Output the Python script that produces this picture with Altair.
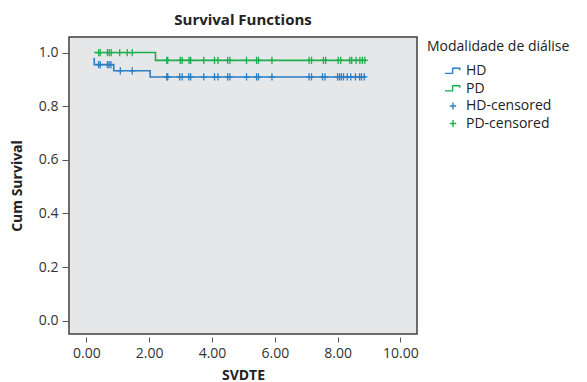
import altair as alt
import pandas as pd

# Kaplan-Meier step points (time, survival)
hd_times = [0.22, 0.25, 0.87, 2.03, 8.9]
hd_surv = [0.977, 0.955, 0.932, 0.909, 0.909]
pd_times = [0.25, 2.2, 8.9]
pd_surv = [1.0, 0.971, 0.971]

# censored times
hd_censored = [0.39, 0.44, 0.67, 0.72, 0.78, 1.08, 1.46,
               2.56, 2.59, 2.97, 3.05, 3.26, 3.32, 3.74, 4.08, 4.19, 4.50, 4.57,
               5.10, 5.42, 5.48, 5.91, 7.09, 7.17, 7.52, 7.60, 8.00, 8.06, 8.12,
               8.19, 8.31, 8.42, 8.57, 8.70, 8.76, 8.85]
pd_censored = [0.39, 0.44, 0.67, 0.73, 0.79, 1.06, 1.30, 1.46,
               2.56, 2.59, 2.99, 3.05, 3.27, 3.32, 3.74, 4.08, 4.19, 4.50, 4.57,
               5.10, 5.42, 5.48, 5.91, 7.09, 7.17, 7.55, 7.62, 8.02, 8.10, 8.39,
               8.45, 8.59, 8.71, 8.79, 8.87]

series_domain = ["HD", "PD", "HD-censored", "PD-censored"]
BLUE = "#2b7fc6"
GREEN = "#1fae4f"
series_colors = [BLUE, GREEN, BLUE, GREEN]
STEP = "M-1,0.3H-0.05V-0.35H0.85V-0.1"
CROSS = "M-0.4,0H0.4M0,-0.45V0.45"
series_shapes = [STEP, STEP, CROSS, CROSS]


def surv_at(times, surv, t):
    s = surv[0]
    for ti, si in zip(times, surv):
        if ti <= t:
            s = si
    return s


lines = pd.DataFrame(
    [{"t": t, "s": s, "series": "HD"} for t, s in zip(hd_times, hd_surv)]
    + [{"t": t, "s": s, "series": "PD"} for t, s in zip(pd_times, pd_surv)]
)
points = pd.DataFrame(
    [{"t": t, "s": surv_at(hd_times, hd_surv, t), "series": "HD-censored"} for t in hd_censored]
    + [{"t": t, "s": surv_at(pd_times, pd_surv, t), "series": "PD-censored"} for t in pd_censored]
)

FONT = "Open Sans"

x_enc = alt.X("t:Q", scale=alt.Scale(domain=[-0.555, 10.53], nice=False, zero=False),
              axis=alt.Axis(title="SVDTE", values=[0, 2, 4, 6, 8, 10], format=".2f",
                            domain=False, grid=False, offset=3, tickSize=5,
                            tickColor="#555", labelPadding=4, titlePadding=8))
y_enc = alt.Y("s:Q", scale=alt.Scale(domain=[-0.0496, 1.058], nice=False, zero=False),
              axis=alt.Axis(title="Cum Survival", values=[0, 0.2, 0.4, 0.6, 0.8, 1.0], format=".1f",
                            domain=False, grid=False, offset=1, tickSize=6,
                            tickColor="#555", labelPadding=4, titlePadding=14))
color_enc = alt.Color("series:N", scale=alt.Scale(domain=series_domain, range=series_colors),
                      legend=alt.Legend(title="Modalidade de diálise", orient="none",
                                        legendX=358, legendY=3, symbolOffset=17,
                                        symbolSize=256, symbolStrokeWidth=1.4,
                                        labelFontSize=14, titleFontSize=14,
                                        titleFontWeight="normal", labelOffset=4,
                                        rowPadding=1.5, titlePadding=8,
                                        labelFont=FONT, titleFont=FONT,
                                        labelColor="#222", titleColor="#222"))

line_layer = alt.Chart(lines).mark_line(interpolate="step-after", strokeWidth=1.6).encode(
    x=x_enc, y=y_enc, color=color_enc, detail="series:N"
)
point_layer = alt.Chart(points).mark_point(filled=False, size=256, strokeWidth=1.3, opacity=1).encode(
    x="t:Q", y="s:Q", color=alt.Color("series:N"),
    shape=alt.Shape("series:N", scale=alt.Scale(domain=series_domain, range=series_shapes))
)

chart = alt.layer(line_layer, point_layer).properties(
    width=348, height=297,
    autosize=alt.AutoSizeParams(type="none"),
    padding={"left": 61, "top": 29, "right": 161, "bottom": 48},
    title=alt.TitleParams("Survival Functions", fontSize=15, fontWeight="bold", font=FONT,
                          anchor="middle", frame="group", offset=9, color="#222"),
).configure_view(
    fill="#e6e7e9", stroke="#3f3f3f", strokeWidth=1.5
).configure_axis(
    labelFont=FONT, titleFont=FONT, labelFontSize=14, titleFontSize=14,
    titleFontWeight="bold", labelColor="#333", titleColor="#222"
)

chart.save("out.html", embed_options={"renderer": "svg", "actions": False})
